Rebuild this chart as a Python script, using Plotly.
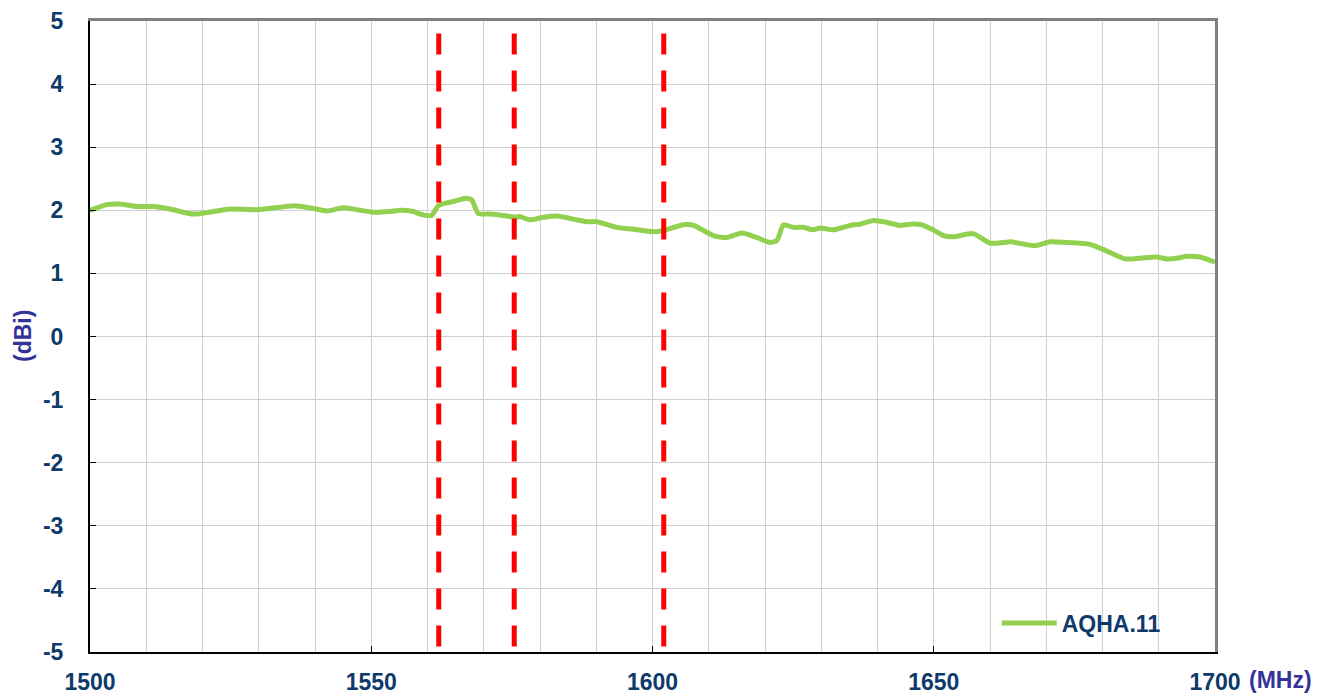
import plotly.graph_objects as go

# Measured gain of the AQHA.11 antenna across the band
freq_mhz = [
    1500.0, 1503.0, 1505.3, 1508.3, 1511.3, 1514.2, 1518.4, 1521.9, 1524.9, 1529.6,
    1533.8, 1536.7, 1539.7, 1542.1, 1545.0, 1547.4, 1550.4, 1553.3, 1555.1, 1557.5,
    1558.7, 1560.7, 1562.0, 1564.6, 1567.0, 1567.9, 1569.0, 1571.1, 1574.1, 1575.6,
    1576.4, 1578.2, 1580.6, 1583.0, 1585.9, 1588.3, 1590.1, 1593.6, 1596.6, 1600.1,
    1601.9, 1605.5, 1607.3, 1610.8, 1613.2, 1615.9, 1618.5, 1620.9, 1622.1, 1623.3,
    1625.0, 1626.8, 1628.6, 1629.8, 1632.1, 1633.9, 1635.7, 1636.9, 1639.3, 1641.6,
    1644.0, 1645.8, 1647.9, 1649.9, 1651.7, 1653.5, 1657.0, 1660.0, 1662.4, 1663.6,
    1668.0, 1670.7, 1673.6, 1677.8, 1680.1, 1684.0, 1686.7, 1689.6, 1691.4, 1693.2,
    1695.0, 1697.3, 1700.0,
]
gain_dbi = [
    2.00, 2.09, 2.10, 2.06, 2.06, 2.02, 1.94, 1.98, 2.02, 2.01,
    2.05, 2.07, 2.03, 1.99, 2.04, 2.01, 1.97, 1.98, 2.00, 1.98,
    1.94, 1.92, 2.08, 2.14, 2.19, 2.16, 1.95, 1.94, 1.91, 1.89,
    1.90, 1.85, 1.89, 1.91, 1.86, 1.82, 1.82, 1.73, 1.70, 1.66,
    1.68, 1.77, 1.76, 1.60, 1.57, 1.64, 1.57, 1.49, 1.52, 1.77,
    1.73, 1.73, 1.69, 1.72, 1.69, 1.73, 1.77, 1.78, 1.84, 1.81,
    1.76, 1.78, 1.77, 1.69, 1.60, 1.58, 1.63, 1.48, 1.49, 1.50,
    1.44, 1.50, 1.49, 1.46, 1.38, 1.23, 1.24, 1.26, 1.23, 1.24,
    1.27, 1.26, 1.18,
]

# GNSS carrier frequencies marked on the chart (MHz)
marker_freqs = [1562.0, 1575.42, 1602.0]

x_ticks = [1500, 1550, 1600, 1650, 1700]
y_ticks = [5, 4, 3, 2, 1, 0, -1, -2, -3, -4, -5]

label_color = "#0E3A6B"
title_color = "#333399"
font_family = "Liberation Sans, Arial, sans-serif"

fig = go.Figure()
fig.add_trace(go.Scatter(
    x=freq_mhz, y=gain_dbi, mode="lines", name="AQHA.11",
    line=dict(color="#92D050", width=5, shape="spline", smoothing=0.6),
))

for f in marker_freqs:
    fig.add_shape(
        type="line", xref="x", yref="y", x0=f, x1=f, y0=4.8, y1=-5,
        line=dict(color="#FF0000", width=5, dash="21px,16px"),
        layer="above",
    )

fig.update_layout(
    width=1332, height=697,
    margin=dict(l=90, r=117, t=21, b=45, autoexpand=False),
    paper_bgcolor="white", plot_bgcolor="white",
    font=dict(family=font_family, size=23, color=label_color),
    showlegend=True,
    legend=dict(
        x=0.806, y=0.012, xanchor="left", yanchor="bottom",
        bgcolor="rgba(0,0,0,0)", borderwidth=0,
        font=dict(size=23, color=label_color, family=font_family, weight="bold"),
        itemwidth=55,
    ),
    xaxis=dict(
        range=[1500, 1700], tickvals=x_ticks,
        ticktext=[f"<b>{v}</b>" for v in x_ticks],
        ticks="inside", ticklen=6, tickcolor="black", tickwidth=1,
        showgrid=True, gridcolor="#D0D0D0", gridwidth=1,
        minor=dict(dtick=10, showgrid=True, gridcolor="#D0D0D0", gridwidth=1),
        showline=True, linecolor="black", linewidth=2, mirror=False,
        zeroline=False, ticklabelstandoff=8, automargin=False,
        tickfont=dict(size=23, color=label_color),
    ),
    yaxis=dict(
        range=[-5, 5], tickvals=y_ticks,
        ticktext=[f"<b>{v}</b>" for v in y_ticks],
        ticks="inside", ticklen=6, tickcolor="black", tickwidth=1,
        showgrid=True, gridcolor="#D0D0D0", gridwidth=1,
        showline=True, linecolor="black", linewidth=2,
        zeroline=False, ticklabelstandoff=20, automargin=False,
        tickfont=dict(size=23, color=label_color),
    ),
    xaxis2=dict(overlaying="x", side="top", range=[1500, 1700], showline=True,
                linecolor="#808080", linewidth=3, showticklabels=False,
                showgrid=False, zeroline=False, ticks="", automargin=False),
    yaxis2=dict(overlaying="y", side="right", range=[-5, 5], showline=True,
                linecolor="#808080", linewidth=3, showticklabels=False,
                showgrid=False, zeroline=False, ticks="", automargin=False),
)

# invisible helper so the top/right frame axes are drawn
fig.add_trace(go.Scatter(x=[1500], y=[0], xaxis="x2", yaxis="y2",
                         mode="markers", marker=dict(opacity=0),
                         showlegend=False, hoverinfo="skip"))

fig.add_annotation(
    text="<b>(dBi)</b>", xref="paper", yref="paper", x=-0.060, y=0.5,
    textangle=-90, showarrow=False, xanchor="center", yanchor="middle",
    font=dict(size=23, color=title_color, family=font_family),
)
fig.add_annotation(
    text="<b>(MHz)</b>", xref="paper", yref="paper", x=1.028, y=-0.020,
    showarrow=False, xanchor="left", yanchor="top",
    font=dict(size=23, color=title_color, family=font_family),
)

fig.write_html("out.html")
